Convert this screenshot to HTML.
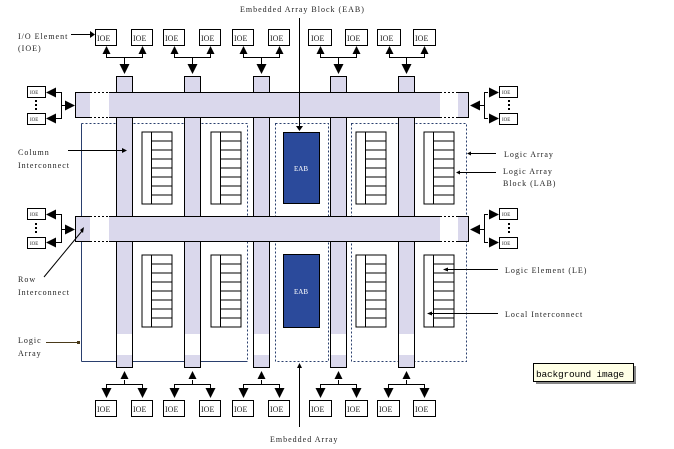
<!DOCTYPE html>
<html><head><meta charset="utf-8"><style>
html,body{margin:0;padding:0;background:#fff;}
svg{display:block;}
text{font-family:"Liberation Serif",serif;font-size:8px;letter-spacing:1px;fill:#222;}
.ioe{font-size:8px;letter-spacing:0;}
</style></head><body>
<svg width="674" height="449" viewBox="0 0 674 449" xmlns="http://www.w3.org/2000/svg">
<defs>
<g id="lab">
<rect x="0" y="0" width="30" height="72" fill="#fff" stroke="#000" stroke-width="1"/>
<line x1="9.5" y1="0" x2="9.5" y2="72" stroke="#000"/>
<path d="M9.5 9H30M9.5 18H30M9.5 27H30M9.5 36H30M9.5 45H30M9.5 54H30M9.5 63H30" stroke="#000"/>
</g>
<g id="tu"><path d="M-4 8L0 0L4 8Z" fill="#000"/></g>
<g id="td"><path d="M-5 0L5 0L0 10Z" fill="#000"/></g>
<g id="tl"><path d="M0 0L10 -5L10 5Z" fill="#000"/></g>
<g id="tr"><path d="M0 0L-10 -5L-10 5Z" fill="#000"/></g>
</defs>

<path d="M81.5 361.5V123.5" stroke="#2a3f6e" fill="none"/>
<path d="M81.5 361.5H247.5" stroke="#2a3f6e" fill="none"/>
<path d="M81.5 123.5H247.5V361.5" stroke="#2a3f6e" stroke-dasharray="2,2" fill="none"/>
<rect x="275.5" y="123.5" width="53" height="238" fill="none" stroke="#2a3f6e" stroke-dasharray="2,2"/>
<rect x="351.5" y="123.5" width="115" height="238" fill="none" stroke="#2a3f6e" stroke-dasharray="2,2"/>

<g fill="#dad8ec" stroke="#000">
<rect x="116.5" y="76.5" width="16" height="291"/>
<rect x="184.5" y="76.5" width="16" height="291"/>
<rect x="253.5" y="76.5" width="16" height="291"/>
<rect x="330.5" y="76.5" width="16" height="291"/>
<rect x="398.5" y="76.5" width="16" height="291"/>
</g>
<g fill="#fff">
<rect x="117" y="334" width="15" height="21"/>
<rect x="185" y="334" width="15" height="21"/>
<rect x="254" y="334" width="15" height="21"/>
<rect x="331" y="334" width="15" height="21"/>
<rect x="399" y="334" width="15" height="21"/>
</g>
<g stroke="#000" stroke-dasharray="2,2">
<path d="M116.5 334V355M132.5 334V355M184.5 334V355M200.5 334V355M253.5 334V355M269.5 334V355M330.5 334V355M346.5 334V355M398.5 334V355M414.5 334V355"/>
</g>

<g>
<rect x="75.5" y="92.5" width="393" height="25" fill="#dad8ec" stroke="#000"/>
<rect x="90" y="93" width="19" height="24" fill="#fff"/>
<rect x="440" y="93" width="18" height="24" fill="#fff"/>
<path d="M90 92.5H109M90 117.5H109M440 92.5H458M440 117.5H458" stroke="#000" stroke-dasharray="2,2"/>
<path d="M90 92.5H109M90 117.5H109M440 92.5H458M440 117.5H458" stroke="#fff" stroke-dasharray="2,2" stroke-dashoffset="2"/>
<rect x="75.5" y="216.5" width="393" height="25" fill="#dad8ec" stroke="#000"/>
<rect x="90" y="217" width="19" height="24" fill="#fff"/>
<rect x="440" y="217" width="18" height="24" fill="#fff"/>
<path d="M90 216.5H109M90 241.5H109M440 216.5H458M440 241.5H458" stroke="#000" stroke-dasharray="2,2"/>
<path d="M90 216.5H109M90 241.5H109M440 216.5H458M440 241.5H458" stroke="#fff" stroke-dasharray="2,2" stroke-dashoffset="2"/>
</g>

<use href="#lab" x="142" y="132"/>
<use href="#lab" x="211" y="132"/>
<use href="#lab" x="356" y="132"/>
<use href="#lab" x="424" y="132"/>
<use href="#lab" x="142" y="255"/>
<use href="#lab" x="211" y="255"/>
<use href="#lab" x="356" y="255"/>
<use href="#lab" x="424" y="255"/>

<rect x="283.5" y="132.5" width="36" height="71" fill="#2b4a9b" stroke="#000"/>
<rect x="283.5" y="254.5" width="36" height="73" fill="#2b4a9b" stroke="#000"/>
<text x="301" y="171" text-anchor="middle" style="fill:#fff;font-size:7px;letter-spacing:0">EAB</text>
<text x="301" y="294" text-anchor="middle" style="fill:#fff;font-size:7px;letter-spacing:0">EAB</text>

<g fill="#fff" stroke="#000">
<rect x="95.5" y="29.5" width="21" height="16"/><rect x="131.5" y="29.5" width="21" height="16"/>
<rect x="163.5" y="29.5" width="21" height="16"/><rect x="199.5" y="29.5" width="21" height="16"/>
<rect x="232.5" y="29.5" width="21" height="16"/><rect x="268.5" y="29.5" width="21" height="16"/>
<rect x="308.5" y="29.5" width="23" height="16"/><rect x="345.5" y="29.5" width="22" height="16"/>
<rect x="377.5" y="29.5" width="23" height="16"/><rect x="413.5" y="29.5" width="22" height="16"/>
</g>
<text class="ioe" x="97" y="41">IOE</text><text class="ioe" x="133" y="41">IOE</text>
<text class="ioe" x="165" y="41">IOE</text><text class="ioe" x="201" y="41">IOE</text>
<text class="ioe" x="234" y="41">IOE</text><text class="ioe" x="270" y="41">IOE</text>
<text class="ioe" x="311" y="41">IOE</text><text class="ioe" x="347" y="41">IOE</text>
<text class="ioe" x="380" y="41">IOE</text><text class="ioe" x="415" y="41">IOE</text>
<g stroke="#000" fill="none">
<path d="M106.5 54V57.5H142.5V54M124.5 57.5V64"/>
<path d="M174.5 54V57.5H210.5V54M192.5 57.5V64"/>
<path d="M243.5 54V57.5H279.5V54M261.5 57.5V64"/>
<path d="M320.5 54V57.5H356.5V54M338.5 57.5V64"/>
<path d="M389.5 54V57.5H424.5V54M406.5 57.5V64"/>
</g>
<use href="#tu" x="106.5" y="46"/><use href="#tu" x="142.5" y="46"/><use href="#td" x="124.5" y="64"/>
<use href="#tu" x="174.5" y="46"/><use href="#tu" x="210.5" y="46"/><use href="#td" x="192.5" y="64"/>
<use href="#tu" x="243.5" y="46"/><use href="#tu" x="279.5" y="46"/><use href="#td" x="261.5" y="64"/>
<use href="#tu" x="320.5" y="46"/><use href="#tu" x="356.5" y="46"/><use href="#td" x="338.5" y="64"/>
<use href="#tu" x="389.5" y="46"/><use href="#tu" x="424.5" y="46"/><use href="#td" x="406.5" y="64"/>

<g fill="#fff" stroke="#000">
<rect x="95.5" y="400.5" width="21" height="16"/><rect x="131.5" y="400.5" width="21" height="16"/>
<rect x="163.5" y="400.5" width="21" height="16"/><rect x="199.5" y="400.5" width="21" height="16"/>
<rect x="232.5" y="400.5" width="21" height="16"/><rect x="268.5" y="400.5" width="21" height="16"/>
<rect x="309.5" y="400.5" width="22" height="16"/><rect x="345.5" y="400.5" width="22" height="16"/>
<rect x="377.5" y="400.5" width="22" height="16"/><rect x="413.5" y="400.5" width="22" height="16"/>
</g>
<text class="ioe" x="97" y="412">IOE</text><text class="ioe" x="133" y="412">IOE</text>
<text class="ioe" x="165" y="412">IOE</text><text class="ioe" x="201" y="412">IOE</text>
<text class="ioe" x="234" y="412">IOE</text><text class="ioe" x="270" y="412">IOE</text>
<text class="ioe" x="311" y="412">IOE</text><text class="ioe" x="347" y="412">IOE</text>
<text class="ioe" x="379" y="412">IOE</text><text class="ioe" x="415" y="412">IOE</text>
<g stroke="#000" fill="none">
<path d="M106.5 388V384.5H142.5V388M124.5 384.5V380"/>
<path d="M174.5 388V384.5H210.5V388M192.5 384.5V380"/>
<path d="M243.5 388V384.5H279.5V388M261.5 384.5V380"/>
<path d="M320.5 388V384.5H356.5V388M338.5 384.5V380"/>
<path d="M388.5 388V384.5H424.5V388M406.5 384.5V380"/>
</g>
<use href="#tu" x="124.5" y="371"/><use href="#td" x="106.5" y="388"/><use href="#td" x="142.5" y="388"/>
<use href="#tu" x="192.5" y="371"/><use href="#td" x="174.5" y="388"/><use href="#td" x="210.5" y="388"/>
<use href="#tu" x="261.5" y="371"/><use href="#td" x="243.5" y="388"/><use href="#td" x="279.5" y="388"/>
<use href="#tu" x="338.5" y="371"/><use href="#td" x="320.5" y="388"/><use href="#td" x="356.5" y="388"/>
<use href="#tu" x="406.5" y="371"/><use href="#td" x="388.5" y="388"/><use href="#td" x="424.5" y="388"/>

<g fill="#fff" stroke="#000">
<rect x="27.5" y="86.5" width="18" height="11"/><rect x="27.5" y="113.5" width="18" height="11"/>
<rect x="27.5" y="208.5" width="18" height="11"/><rect x="27.5" y="237.5" width="18" height="11"/>
<rect x="499.5" y="86.5" width="18" height="11"/><rect x="499.5" y="113.5" width="18" height="11"/>
<rect x="499.5" y="208.5" width="18" height="11"/><rect x="499.5" y="237.5" width="18" height="11"/>
</g>
<text x="30" y="94" style="font-size:5px;letter-spacing:0">IOE</text><text x="30" y="121" style="font-size:5px;letter-spacing:0">IOE</text>
<text x="30" y="216" style="font-size:5px;letter-spacing:0">IOE</text><text x="30" y="245" style="font-size:5px;letter-spacing:0">IOE</text>
<text x="502" y="94" style="font-size:5px;letter-spacing:0">IOE</text><text x="502" y="121" style="font-size:5px;letter-spacing:0">IOE</text>
<text x="502" y="216" style="font-size:5px;letter-spacing:0">IOE</text><text x="502" y="245" style="font-size:5px;letter-spacing:0">IOE</text>
<g fill="#000">
<rect x="35" y="100" width="2" height="2"/><rect x="35" y="104" width="2" height="2"/><rect x="35" y="108" width="2" height="2"/>
<rect x="35" y="223" width="2" height="2"/><rect x="35" y="227" width="2" height="2"/><rect x="35" y="231" width="2" height="2"/>
<rect x="508" y="100" width="2" height="2"/><rect x="508" y="104" width="2" height="2"/><rect x="508" y="108" width="2" height="2"/>
<rect x="508" y="223" width="2" height="2"/><rect x="508" y="227" width="2" height="2"/><rect x="508" y="231" width="2" height="2"/>
</g>
<g stroke="#000" fill="none">
<path d="M56 92.5H61.5V118.5H56M61.5 105.5H65"/>
<path d="M56 214.5H61.5V242.5H56M61.5 229.5H65"/>
<path d="M488 92.5H484.5V118.5H488M484.5 105.5H480"/>
<path d="M488 214.5H484.5V242.5H488M484.5 229.5H480"/>
</g>
<use href="#tl" x="46" y="92.5"/><use href="#tl" x="46" y="118.5"/><use href="#tr" x="75" y="105.5"/>
<use href="#tl" x="46" y="214.5"/><use href="#tl" x="46" y="242.5"/><use href="#tr" x="75" y="229.5"/>
<use href="#tr" x="499" y="92.5"/><use href="#tr" x="499" y="118.5"/><use href="#tl" x="470" y="105.5"/>
<use href="#tr" x="499" y="214.5"/><use href="#tr" x="499" y="242.5"/><use href="#tl" x="470" y="229.5"/>

<text x="240" y="12">Embedded Array Block (EAB)</text>
<path d="M299.5 18V126" stroke="#000"/><path d="M296 126L303 126L299.5 131Z" fill="#000"/>
<text x="18" y="39">I/O Element</text><text x="18" y="51">(IOE)</text>
<path d="M71 34.5H90" stroke="#000"/><path d="M90 31L95 34.5L90 38Z" fill="#000"/>
<text x="18" y="155">Column</text><text x="18" y="168">Interconnect</text>
<path d="M68 150.5H122" stroke="#000"/><path d="M122 148L127 150.5L122 153Z" fill="#000"/>
<text x="18" y="282">Row</text><text x="18" y="295">Interconnect</text>
<path d="M44 277L82 231" stroke="#000"/><path d="M80 230L84 227L83 233Z" fill="#000"/>
<text x="18" y="343">Logic</text><text x="18" y="356">Array</text>
<path d="M46 342.5H79" stroke="#4a3a1a"/><rect x="77" y="341" width="3" height="3" fill="#4a3a1a"/>
<text x="504" y="157">Logic Array</text>
<path d="M470 153.5H496" stroke="#000"/><path d="M467 153.5L471 151.5V155.5Z" fill="#000"/>
<text x="503" y="174">Logic Array</text><text x="503" y="186">Block (LAB)</text>
<path d="M459 172.5H496" stroke="#000"/><path d="M456 172.5L460 170.5V174.5Z" fill="#000"/>
<text x="505" y="273">Logic Element (LE)</text>
<path d="M447 269.5H498" stroke="#000"/><path d="M443 269.5L448 267.5V271.5Z" fill="#000"/>
<text x="505" y="317">Local Interconnect</text>
<path d="M431 313.5H498" stroke="#000"/><path d="M427 313.5L432 311.5V315.5Z" fill="#000"/>
<text x="270" y="442">Embedded Array</text>
<path d="M299.5 427V368" stroke="#000"/><path d="M297 368L302 368L299.5 363Z" fill="#000"/>

<rect x="536" y="366" width="100" height="18" fill="#888"/>
<rect x="533.5" y="363.5" width="100" height="18" fill="#ffffe6" stroke="#000"/>
<text x="536" y="377" style="font-family:'Liberation Mono',monospace;font-size:9.5px;letter-spacing:-0.2px;fill:#000">background image</text>
</svg>
</body></html>
